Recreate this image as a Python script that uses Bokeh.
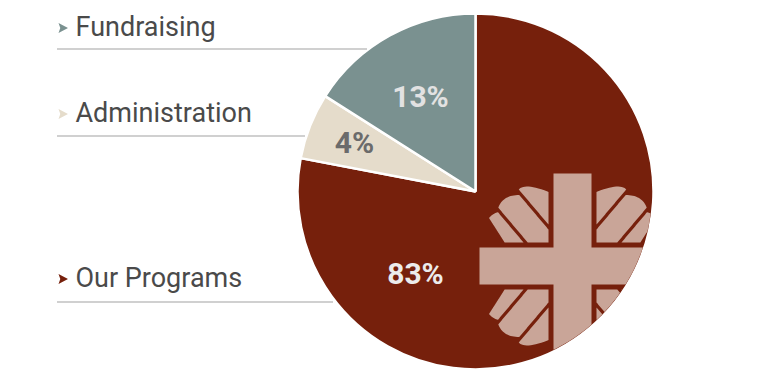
import numpy as np
from bokeh.plotting import figure
from bokeh.models import ColumnDataSource
from bokeh.core.properties import value
from bokeh.embed import file_html
from bokeh.resources import INLINE

# ---------------- data ----------------
categories = ["Our Programs", "Administration", "Fundraising"]
drawn_shares = [78, 6, 16]            # slice sizes as drawn in the picture
pct_labels = ["83%", "4%", "13%"]     # labels as printed
slice_colors = ["#76200c", "#e5dccb", "#7a9190"]
pct_text_colors = ["#ececec", "#6b6b6b", "#e2e2e2"]

# ---------------- layout ----------------
W, H = 767, 383
CX, CY, R = 475, 191, 178          # pie centre / radius (pixel coords, y down)
TEXT_FIX = 10.5                    # compensation for svg text baseline
pct_pos = [(415, 283), (354, 152), (420, 106)]   # label anchor (centre x, baseline y)
legend_baseline = [288, 123, 37]                 # per category
legend_rule_y = [301.5, 135.5, 48.5]
TEXT_X, ARROW_X, RULE_X0 = 75, 58, 57
LOGO_COLOR = "#c9a598"


def Y(y):
    return H - np.asarray(y, dtype=float)


p = figure(width=W, height=H, x_range=(0, W), y_range=(0, H),
           output_backend="svg", toolbar_location=None, min_border=0)
p.axis.visible = False
p.grid.visible = False
p.outline_line_color = None
p.background_fill_color = "white"
p.border_fill_color = "white"

# ---------------- pie ----------------
fr = np.array(drawn_shares, dtype=float) / sum(drawn_shares)
cum = np.concatenate([[0], np.cumsum(fr)])
start = np.pi / 2 - cum[:-1] * 2 * np.pi
end = np.pi / 2 - cum[1:] * 2 * np.pi
src = ColumnDataSource(dict(cat=categories, start=start, end=end, color=slice_colors))
p.wedge(x=CX, y=float(Y(CY)), radius=R, start_angle="start", end_angle="end",
        direction="clock", fill_color="color", line_color="white", line_width=2.5,
        source=src)


# ---------------- logo (cross + flames), clipped to the pie ----------------
def signed_area(poly):
    s = 0.0
    for i in range(len(poly)):
        x0, y0 = poly[i - 1]
        x1, y1 = poly[i]
        s += x0 * y1 - x1 * y0
    return s / 2


def clip_convex(poly, clip_poly):
    clip_poly = list(clip_poly)
    if signed_area(clip_poly) < 0:
        clip_poly = clip_poly[::-1]
    out = list(poly)
    m = len(clip_poly)
    for i in range(m):
        a = clip_poly[i]
        b = clip_poly[(i + 1) % m]

        def f(pt, a=a, b=b):
            return (b[0] - a[0]) * (pt[1] - a[1]) - (b[1] - a[1]) * (pt[0] - a[0])

        new = []
        for j in range(len(out)):
            cur, prev = out[j], out[j - 1]
            fc, fp = f(cur), f(prev)
            if fc >= 0:
                if fp < 0:
                    t = fp / (fp - fc)
                    new.append((prev[0] + t * (cur[0] - prev[0]), prev[1] + t * (cur[1] - prev[1])))
                new.append(cur)
            elif fp >= 0:
                t = fp / (fp - fc)
                new.append((prev[0] + t * (cur[0] - prev[0]), prev[1] + t * (cur[1] - prev[1])))
        out = new
        if not out:
            break
    return out


tt = np.linspace(0, 2 * np.pi, 240, endpoint=False)
circle_poly = [(CX + (R - 1.5) * np.cos(t), CY + (R - 1.5) * np.sin(t)) for t in tt]

logo_xs, logo_ys = [], []


def add_poly(poly):
    c = clip_convex(poly, circle_poly)
    if len(c) >= 3:
        logo_xs.append([q[0] for q in c])
        logo_ys.append(list(Y([q[1] for q in c])))


# cross
vx0, vx1, top = 553, 591, 173
hy0, hy1, left = 247, 284, 479
mx, my = (vx0 + vx1) / 2, (hy0 + hy1) / 2
half = mx - left
bottom, right = my + half, mx + half
add_poly([(vx0, top), (vx1, top), (vx1, bottom), (vx0, bottom)])
add_poly([(left, hy0), (right, hy0), (right, hy1), (left, hy1)])

# flames: three curved petals in each quadrant (local frame: s along diagonal, n across)
GAP = 5
corners = [((vx0 - GAP, hy0 - GAP), -1, -1), ((vx1 + GAP, hy0 - GAP), 1, -1),
           ((vx0 - GAP, hy1 + GAP), -1, 1), ((vx1 + GAP, hy1 + GAP), 1, 1)]
r2 = np.sqrt(2)
G1, G2, GH = -10.0, 17.5, 1.6


def drift(s):
    return -5.0 * s / 60.0


petals = [
    # (n_lo(s), n_hi(s), n_tip, s_tip, curvature)
    (lambda s: -80.0 + 0 * s, lambda s: G1 - GH + drift(s), -16.5, 58.6, 0.062),
    (lambda s: G1 + GH + drift(s), lambda s: G2 - GH + drift(s), 3.0, 62.0, 0.03),
    (lambda s: G2 + GH + drift(s), lambda s: 31.0 - 0.22 * (s - 31.0), 23.0, 59.5, 0.03),
]


def to_ab(pts):
    return [((s + n) / r2, (s - n) / r2) for s, n in pts]


quadrant = [(0, 0), (300, 0), (300, 300), (0, 300)]

for nlo, nhi, nt, stip, c in petals:
    s = np.linspace(0, 90, 91)
    band = [(si, nlo(si)) for si in s] + [(si, nhi(si)) for si in s[::-1]]
    nn = np.linspace(nt - 55, nt + 55, 80)
    endreg = [(stip - c * (ni - nt) ** 2, ni) for ni in nn] + [(-300, nt + 55), (-300, nt - 55)]
    loc = clip_convex(to_ab(band), to_ab(endreg))
    loc = clip_convex(loc, quadrant)
    if len(loc) < 3:
        continue
    for (ox, oy), sx, sy in corners:
        add_poly([(ox + sx * a, oy + sy * b) for a, b in loc])

p.patches(xs=logo_xs, ys=logo_ys, fill_color=LOGO_COLOR, line_color=None)

# ---------------- percentage labels ----------------
p.text(x=[q[0] for q in pct_pos], y=Y([q[1] - TEXT_FIX for q in pct_pos]), text=pct_labels,
       text_color=pct_text_colors, text_font=value("Roboto"), text_font_size="30px",
       text_font_style="bold", text_align="center", text_baseline="alphabetic")

# ---------------- legend labels with arrows and dotted rules ----------------
p.text(x=[TEXT_X] * 3, y=Y([b - TEXT_FIX for b in legend_baseline]), text=categories,
       text_color="#4a4a4a", text_font=value("Roboto"), text_font_size="27px",
       text_align="left", text_baseline="alphabetic")

arrow_xs, arrow_ys = [], []
for b in legend_baseline:
    yc = b - 9.5
    pts = [(ARROW_X, yc - 5), (ARROW_X + 9.5, yc), (ARROW_X, yc + 5), (ARROW_X + 1.8, yc)]
    arrow_xs.append([q[0] for q in pts])
    arrow_ys.append(list(Y([q[1] for q in pts])))
p.patches(xs=arrow_xs, ys=arrow_ys, fill_color=slice_colors, line_color=None)

# dotted rules, built from 1px dots every 2px
dot_x, dot_y = [], []
for yr in legend_rule_y:
    x1 = CX - np.sqrt(R ** 2 - (yr - CY) ** 2) - 2
    xs = np.arange(RULE_X0 + 0.5, x1, 2.0)
    dot_x.extend(xs.tolist())
    dot_y.extend([float(Y(yr))] * len(xs))
p.rect(x=dot_x, y=dot_y, width=1, height=1, fill_color="#444444", line_color=None)

open("out.html", "w").write(file_html(p, INLINE))
